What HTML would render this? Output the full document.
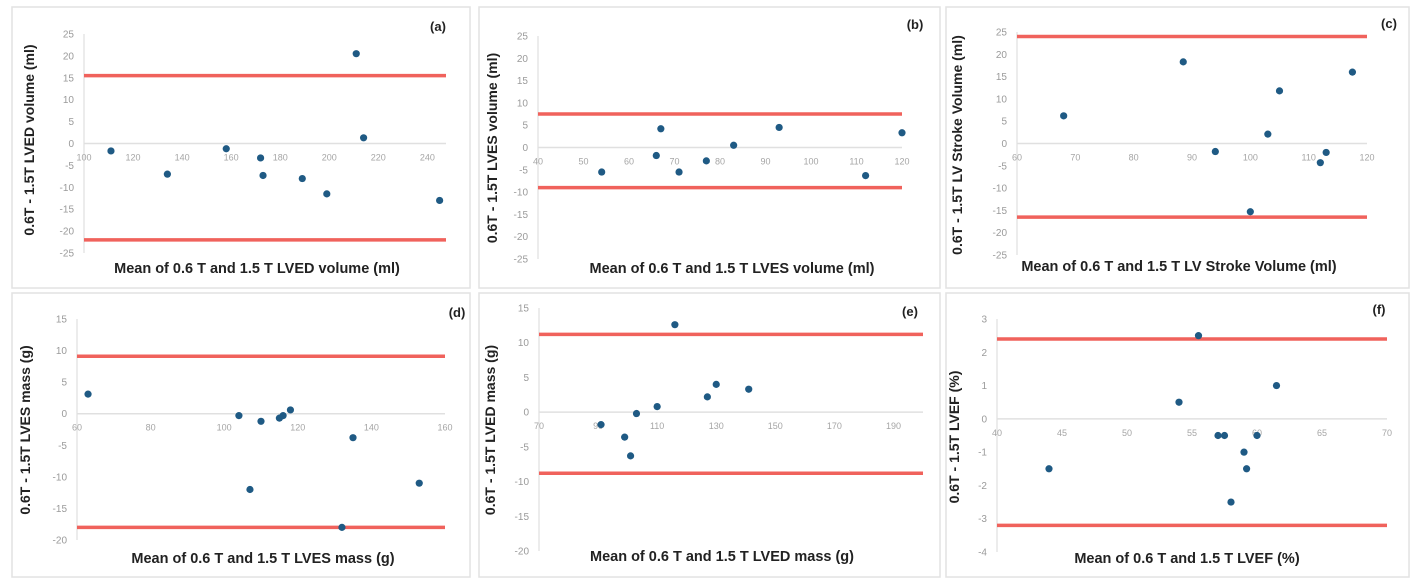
<!DOCTYPE html>
<html><head><meta charset="utf-8"><style>
html,body{margin:0;padding:0;background:#fff;}
svg{display:block;font-family:"Liberation Sans",sans-serif;}
</style></head><body>
<svg id="fig" width="1416" height="582" viewBox="0 0 1416 582" xmlns="http://www.w3.org/2000/svg"></svg>
<script>
// ---- data ----
const aX=[111,134,158,172,173,189,199,211,214,245];
const aY=[-1.7,-7,-1.2,-3.3,-7.3,-8,-11.5,20.5,1.3,-13];
const aLimits=[15.5,-22];
const aXTicks=[100,120,140,160,180,200,220,240];
const aYTicks=[25,20,15,10,5,0,-5,-10,-15,-20,-25];

const bX=[54,66,67,71,77,83,93,112,120];
const bY=[-5.5,-1.8,4.2,-5.5,-3,0.5,4.5,-6.3,3.3];
const bLimits=[7.5,-9];
const bXTicks=[40,50,60,70,80,90,100,110,120];
const bYTicks=[25,20,15,10,5,0,-5,-10,-15,-20,-25];

const cX=[68,88.5,94,100,103,105,112,113,117.5];
const cY=[6.2,18.3,-1.8,-15.3,2.1,11.8,-4.3,-2,16];
const cLimits=[24,-16.5];
const cXTicks=[60,70,80,90,100,110,120];
const cYTicks=[25,20,15,10,5,0,-5,-10,-15,-20,-25];

const dX=[63,104,107,110,115,116,118,132,135,153];
const dY=[3.1,-0.3,-12,-1.2,-0.7,-0.3,0.6,-18,-3.8,-11];
const dLimits=[9.1,-18];
const dXTicks=[60,80,100,120,140,160];
const dYTicks=[15,10,5,0,-5,-10,-15,-20];

const eX=[91,99,101,103,110,116,127,130,141];
const eY=[-1.8,-3.6,-6.3,-0.2,0.8,12.6,2.2,4,3.3];
const eLimits=[11.2,-8.8];
const eXTicks=[70,90,110,130,150,170,190];
const eYTicks=[15,10,5,0,-5,-10,-15,-20];

const fX=[44,54,55.5,57,57.5,58,59,59.2,60,61.5];
const fY=[-1.5,0.5,2.5,-0.5,-0.5,-2.5,-1,-1.5,-0.5,1];
const fLimits=[2.4,-3.2];
const fXTicks=[40,45,50,55,60,65,70];
const fYTicks=[3,2,1,0,-1,-2,-3,-4];

// ---- layout ----
const panels=[
 {id:'a',box:[12,7,458,281],px0:84,px1:446,xmin:100,xmax:247.6,py0:34,py1:253,ymin:-25,ymax:25,
  xs:aX,ys:aY,lim:aLimits,xt:aXTicks,yt:aYTicks,ylab:'0.6T - 1.5T LVED volume (ml)',ylx:34,yly:140,
  xlab:'Mean of 0.6 T and 1.5 T LVED volume (ml)',xlx:257,xly:273,tag:[438,31]},
 {id:'b',box:[479,7,461,281],px0:538,px1:902,xmin:40,xmax:120,py0:36,py1:259,ymin:-25,ymax:25,
  xs:bX,ys:bY,lim:bLimits,xt:bXTicks,yt:bYTicks,ylab:'0.6T - 1.5T LVES volume (ml)',ylx:497,yly:148,
  xlab:'Mean of 0.6 T and 1.5 T LVES volume (ml)',xlx:732,xly:273,tag:[915,29]},
 {id:'c',box:[946,7,463,281],px0:1017,px1:1367,xmin:60,xmax:120,py0:32,py1:255,ymin:-25,ymax:25,
  xs:cX,ys:cY,lim:cLimits,xt:cXTicks,yt:cYTicks,ylab:'0.6T - 1.5T  LV Stroke Volume (ml)',ylx:962,yly:145,
  xlab:'Mean of 0.6 T and 1.5 T LV Stroke Volume (ml)',xlx:1179,xly:271,tag:[1389,28]},
 {id:'d',box:[12,293,458,284],px0:77,px1:445,xmin:60,xmax:160,py0:319,py1:540,ymin:-20,ymax:15,
  xs:dX,ys:dY,lim:dLimits,xt:dXTicks,yt:dYTicks,ylab:'0.6T - 1.5T LVES mass (g)',ylx:30,yly:430,
  xlab:'Mean of 0.6 T and 1.5 T LVES mass (g)',xlx:263,xly:563,tag:[457,317]},
 {id:'e',box:[479,293,461,284],px0:539,px1:923,xmin:70,xmax:200,py0:308,py1:551,ymin:-20,ymax:15,
  xs:eX,ys:eY,lim:eLimits,xt:eXTicks,yt:eYTicks,ylab:'0.6T - 1.5T LVED mass (g)',ylx:495,yly:430,
  xlab:'Mean of 0.6 T and 1.5 T LVED mass (g)',xlx:722,xly:561,tag:[910,316]},
 {id:'f',box:[946,293,463,284],px0:997,px1:1387,xmin:40,xmax:70,py0:319,py1:552,ymin:-4,ymax:3,
  xs:fX,ys:fY,lim:fLimits,xt:fXTicks,yt:fYTicks,ylab:'0.6T - 1.5T LVEF (%)',ylx:959,yly:437,
  xlab:'Mean of 0.6 T and 1.5 T LVEF (%)',xlx:1187,xly:563,tag:[1379,314]}
];
const NS='http://www.w3.org/2000/svg';
const svg=document.getElementById('fig');
function mk(tag,attrs,parent){const e=document.createElementNS(NS,tag);for(const k in attrs)e.setAttribute(k,attrs[k]);(parent||svg).appendChild(e);return e;}
panels.forEach(p=>{
  const g=mk('g',{});
  
  
  const sx=v=>p.px0+(v-p.xmin)/(p.xmax-p.xmin)*(p.px1-p.px0);
  const sy=v=>p.py1-(v-p.ymin)/(p.ymax-p.ymin)*(p.py1-p.py0);
  const bx=mk('rect',{x:p.box[0],y:p.box[1],width:p.box[2],height:p.box[3],fill:'#fff',stroke:'#e2e2e2','stroke-width':1.5},g);
  
  
  const ya=mk('line',{x1:p.px0,x2:p.px0,y1:p.py0,y2:p.py1,stroke:'#e6e6e6','stroke-width':1.5},g);
  
  
  const y0=sy(0);
  const xa=mk('line',{x1:p.px0,x2:p.px1,y1:y0,y2:y0,stroke:'#e0e0e0','stroke-width':1.5},g);
  
  
  p.yt.forEach(v=>{
    const t=mk('text',{x:p.px0-10,y:sy(v)+3.5,'text-anchor':'end','font-size':10,fill:'#9a9a9a'},g);
    t.textContent=v;
    
    
  });
  p.xt.forEach(v=>{
    const t=mk('text',{x:sx(v),y:y0+17,'text-anchor':'middle','font-size':9,fill:'#a5a5a5'},g);
    t.textContent=v;
    
    
  });
  p.lim.forEach(v=>{
    const l=mk('line',{x1:p.px0,x2:p.px1,y1:sy(v),y2:sy(v),stroke:'#f0625c','stroke-width':3.5},g);
    
    
  });
  p.xs.forEach((v,i)=>{
    const c=mk('circle',{cx:sx(v),cy:sy(p.ys[i]),r:3.6,fill:'#1f5a84'},g);
    
    
  });
  const yl=mk('text',{x:p.ylx,y:p.yly,'text-anchor':'middle','font-size':14,'font-weight':'bold',fill:'#222',transform:`rotate(-90 ${p.ylx} ${p.yly})`},g);
  yl.textContent=p.ylab;
  
  
  const xl=mk('text',{x:p.xlx,y:p.xly,'text-anchor':'middle','font-size':14.5,'font-weight':'bold',fill:'#222'},g);
  xl.textContent=p.xlab;
  
  
  const tg=mk('text',{x:p.tag[0],y:p.tag[1],'text-anchor':'middle','font-size':13,'font-weight':'bold',fill:'#222'},g);
  tg.textContent='('+p.id+')';
  
  
});
</script>
</body></html>
